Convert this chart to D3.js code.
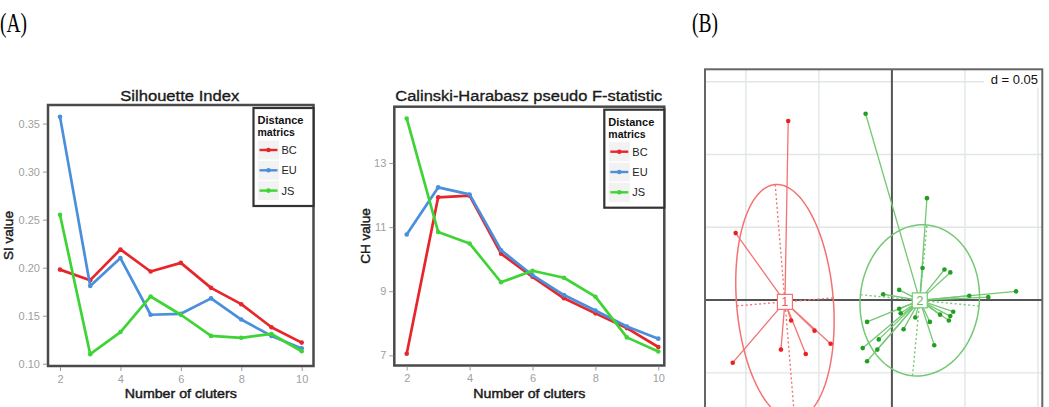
<!DOCTYPE html>
<html>
<head>
<meta charset="utf-8">
<script src="https://cdn.jsdelivr.net/npm/d3@7"></script>
<style>
  body { margin: 0; background: #fff; }
  svg { display: block; }
</style>
</head>
<body>
<script>
// ---------- DATA ----------
var clusters = [2, 3, 4, 5, 6, 7, 8, 9, 10];
var seriesNames = ["BC", "EU", "JS"];

// Silhouette index
var siBC = [0.198, 0.187, 0.219, 0.196, 0.205, 0.179, 0.162, 0.138, 0.122];
var siEU = [0.357, 0.181, 0.210, 0.151, 0.152, 0.168, 0.146, 0.129, 0.116];
var siJS = [0.255, 0.110, 0.133, 0.170, 0.151, 0.129, 0.127, 0.131, 0.113];

// Calinski-Harabasz pseudo F
var chBC = [7.05, 11.93, 11.98, 10.17, 9.45, 8.78, 8.31, 7.85, 7.26];
var chEU = [10.77, 12.24, 12.02, 10.28, 9.50, 8.88, 8.40, 7.90, 7.52];
var chJS = [14.39, 10.85, 10.49, 9.28, 9.64, 9.42, 8.83, 7.56, 7.12];

var xTicks = [2, 4, 6, 8, 10];
var siTicks = [0.10, 0.15, 0.20, 0.25, 0.30, 0.35];
var chTicks = [7, 9, 11, 13];

// ordination (B): sample coordinates per cluster
var group1X = [-0.107, -0.109, -0.076, -0.059, -0.042, -0.053, -0.069, -0.071];
var group1Y = [0.046, -0.043, -0.034, -0.037, -0.030, -0.021, -0.014, 0.123];
var group2X = [-0.018, 0.024, 0.021, 0.036, 0.040, 0.005, -0.006, 0.053, 0.066, 0.085,
               0.005, 0.006, -0.017, 0.016, 0.026, 0.008, 0.033, 0.039, 0.040, 0.042,
               -0.009, -0.020, -0.010, -0.017, 0.029];
var group2Y = [0.128, 0.070, 0.022, 0.021, 0.019, 0.007, 0.004, 0.003, 0.002, 0.006,
               -0.006, -0.009, -0.015, -0.012, -0.015, -0.020, -0.010, -0.014, -0.011, -0.008,
               -0.027, -0.033, -0.034, -0.042, -0.031];
var groupLabels = ["1", "2"];
var gridStep = 0.05;

// ---------- STYLE ----------
var W = 1049, H = 407;
var sans = "'Liberation Sans', Arial, Helvetica, sans-serif";
var lineColors = { BC: "#e6262b", EU: "#4a8fdc", JS: "#3fd435" };

var svg = d3.select("body").append("svg")
  .attr("width", W)
  .attr("height", H);

// panel letters
svg.append("text").text("(A)")
  .attr("x", 0).attr("y", 32)
  .attr("font-family", "'Liberation Serif', 'Times New Roman', serif")
  .attr("font-size", "27px")
  .attr("textLength", 27).attr("lengthAdjust", "spacingAndGlyphs");
svg.append("text").text("(B)")
  .attr("x", 692).attr("y", 32)
  .attr("font-family", "'Liberation Serif', 'Times New Roman', serif")
  .attr("font-size", "27px")
  .attr("textLength", 26).attr("lengthAdjust", "spacingAndGlyphs");

// ---------- LINE PANELS ----------
function drawLinePanel(cfg) {
  var box = cfg.box;
  var g = svg.append("g");

  var x = d3.scaleLinear().domain([2, 10]).range(cfg.xRange);
  var all = cfg.series.flat();
  var ext = d3.extent(all);
  var pad = (ext[1] - ext[0]) * 0.05;
  var y = d3.scaleLinear().domain([ext[0] - pad, ext[1] + pad]).range([box.bottom, box.top]);

  g.append("rect")
    .attr("x", box.left).attr("y", box.top)
    .attr("width", box.right - box.left).attr("height", box.bottom - box.top)
    .attr("fill", "#fff");

  var line = d3.line()
    .x((d, i) => x(clusters[i]))
    .y(d => y(d));

  cfg.series.forEach(function (vals, k) {
    var col = lineColors[seriesNames[k]];
    g.append("path")
      .attr("d", line(vals))
      .attr("fill", "none")
      .attr("stroke", col)
      .attr("stroke-width", 2.7)
      .attr("stroke-linejoin", "round");
    g.selectAll(null).data(vals).enter().append("circle")
      .attr("cx", (d, i) => x(clusters[i]))
      .attr("cy", d => y(d))
      .attr("r", 2.3)
      .attr("fill", col);
  });

  // frame
  g.append("rect")
    .attr("x", box.left).attr("y", box.top)
    .attr("width", box.right - box.left).attr("height", box.bottom - box.top)
    .attr("fill", "none")
    .attr("stroke", "#4a4a4a")
    .attr("stroke-width", 2.5);

  // axes
  var ya = g.append("g")
    .attr("transform", "translate(" + (box.left - 1) + ",0)")
    .call(d3.axisLeft(y).tickValues(cfg.yTicks).tickFormat(cfg.fmt).tickSize(4).tickPadding(3));
  var xa = g.append("g")
    .attr("transform", "translate(0," + (box.bottom + 1) + ")")
    .call(d3.axisBottom(x).tickValues(xTicks).tickSize(4).tickPadding(4));
  [ya, xa].forEach(function (a) {
    a.select(".domain").remove();
    a.selectAll("line").attr("stroke", "#999");
    a.selectAll("text")
      .attr("fill", "#a0a0a0")
      .attr("font-family", sans)
      .attr("font-size", "11px");
  });

  // titles
  g.append("text").text(cfg.title)
    .attr("x", (box.left + box.right) / 2 + cfg.titleShift).attr("y", 101)
    .attr("text-anchor", "middle")
    .attr("font-family", sans).attr("font-size", "15.5px")
    .attr("fill", "#1a1a1a")
    .attr("stroke", "#1a1a1a").attr("stroke-width", 0.35)
    .attr("textLength", cfg.titleLen).attr("lengthAdjust", "spacingAndGlyphs");
  g.append("text").text("Number of cluters")
    .attr("x", (box.left + box.right) / 2).attr("y", box.bottom + 32)
    .attr("text-anchor", "middle")
    .attr("font-family", sans).attr("font-size", "13px")
    .attr("fill", "#1a1a1a")
    .attr("stroke", "#1a1a1a").attr("stroke-width", 0.45)
    .attr("textLength", 112).attr("lengthAdjust", "spacingAndGlyphs");
  g.append("text").text(cfg.yTitle)
    .attr("transform", "translate(" + cfg.yTitleX + "," + ((box.top + box.bottom) / 2) + ") rotate(-90)")
    .attr("text-anchor", "middle")
    .attr("font-family", sans).attr("font-size", "13.5px")
    .attr("fill", "#1a1a1a")
    .attr("stroke", "#1a1a1a").attr("stroke-width", 0.45);

  // legend
  var lw = 60, lh = 98;
  var lg = g.append("g").attr("transform", "translate(" + (box.right - lw) + "," + (box.top + 3) + ")");
  lg.append("rect")
    .attr("width", lw).attr("height", lh)
    .attr("fill", "#fff")
    .attr("stroke", "#333").attr("stroke-width", 2.2);
  lg.append("text").text("Distance")
    .attr("x", 4).attr("y", 16)
    .attr("font-family", sans).attr("font-size", "10.5px").attr("font-weight", "bold")
    .attr("fill", "#111")
    .attr("textLength", 46).attr("lengthAdjust", "spacingAndGlyphs");
  lg.append("text").text("matrics")
    .attr("x", 4).attr("y", 28)
    .attr("font-family", sans).attr("font-size", "10.5px").attr("font-weight", "bold")
    .attr("fill", "#111");
  seriesNames.forEach(function (name, k) {
    var cy = 42 + k * 20.3;
    lg.append("rect")
      .attr("x", 4).attr("y", cy - 10).attr("width", 22).attr("height", 20)
      .attr("fill", "#f2f2f2").attr("stroke", "#fff").attr("stroke-width", 1);
    lg.append("line")
      .attr("x1", 6).attr("x2", 24).attr("y1", cy).attr("y2", cy)
      .attr("stroke", lineColors[name]).attr("stroke-width", 2.4);
    lg.append("circle")
      .attr("cx", 15).attr("cy", cy).attr("r", 2.3)
      .attr("fill", lineColors[name]);
    lg.append("text").text(name)
      .attr("x", 28).attr("y", cy + 4)
      .attr("font-family", sans).attr("font-size", "11px")
      .attr("fill", "#222");
  });
}

drawLinePanel({
  box: { left: 48, top: 105, right: 313.5, bottom: 366 },
  xRange: [60, 301.7],
  series: [siBC, siEU, siJS],
  yTicks: siTicks,
  fmt: d3.format(".2f"),
  title: "Silhouette Index",
  titleLen: 119,
  titleShift: -1,
  yTitle: "SI value",
  yTitleX: 13
});

drawLinePanel({
  box: { left: 394.3, top: 106.7, right: 664.3, bottom: 365.5 },
  xRange: [406.7, 658.3],
  series: [chBC, chEU, chJS],
  yTicks: chTicks,
  fmt: d3.format("d"),
  title: "Calinski-Harabasz pseudo F-statistic",
  titleLen: 267,
  titleShift: -0.5,
  yTitle: "CH value",
  yTitleX: 370
});

// ---------- ORDINATION PANEL (B) ----------
var frame = { left: 705, top: 69.3, right: 1042.3, bottom: 410 };
var xLim = [-0.128, 0.103];
var yLim = [-0.0755, 0.1585];
var bx = d3.scaleLinear().domain(xLim).range([frame.left, frame.right]);
var by = d3.scaleLinear().domain(yLim).range([frame.bottom, frame.top]);

var gb = svg.append("g");
gb.append("clipPath").attr("id", "frameClip")
  .append("rect")
  .attr("x", frame.left).attr("y", frame.top)
  .attr("width", frame.right - frame.left).attr("height", frame.bottom - frame.top);
var inner = gb.append("g").attr("clip-path", "url(#frameClip)");

inner.append("rect")
  .attr("x", frame.left).attr("y", frame.top)
  .attr("width", frame.right - frame.left).attr("height", frame.bottom - frame.top)
  .attr("fill", "#fff");

// grid
var gx = d3.range(Math.ceil(xLim[0] / gridStep), Math.floor(xLim[1] / gridStep) + 1).map(k => k * gridStep);
var gy = d3.range(Math.ceil(yLim[0] / gridStep), Math.floor(yLim[1] / gridStep) + 1).map(k => k * gridStep);
inner.selectAll(null).data(gx).enter().append("line")
  .attr("x1", d => bx(d)).attr("x2", d => bx(d))
  .attr("y1", frame.top).attr("y2", frame.bottom)
  .attr("stroke", "#e1e6e6").attr("stroke-width", 1.4);
inner.selectAll(null).data(gy).enter().append("line")
  .attr("y1", d => by(d)).attr("y2", d => by(d))
  .attr("x1", frame.left).attr("x2", frame.right)
  .attr("stroke", "#e1e6e6").attr("stroke-width", 1.4);

// origin axes
inner.append("line")
  .attr("x1", bx(0)).attr("x2", bx(0)).attr("y1", frame.top).attr("y2", frame.bottom)
  .attr("stroke", "#555").attr("stroke-width", 2);
inner.append("line")
  .attr("y1", by(0)).attr("y2", by(0)).attr("x1", frame.left).attr("x2", frame.right)
  .attr("stroke", "#555").attr("stroke-width", 2);

var groups = [
  { xs: group1X, ys: group1Y, label: groupLabels[0], pt: "#ee1f1f", ln: "#f47272", lab: "#f05a5a" },
  { xs: group2X, ys: group2Y, label: groupLabels[1], pt: "#229f22", ln: "#74c874", lab: "#6ab86a" }
];

groups.forEach(function (grp) {
  var n = grp.xs.length;
  var cx = d3.mean(grp.xs), cy = d3.mean(grp.ys);
  var vx = d3.sum(grp.xs, v => (v - cx) * (v - cx)) / n;
  var vy = d3.sum(grp.ys, v => (v - cy) * (v - cy)) / n;
  var cxy = d3.sum(grp.xs, (v, i) => (v - cx) * (grp.ys[i] - cy)) / n;
  var mid = (vx + vy) / 2, dif = Math.sqrt(((vx - vy) / 2) * ((vx - vy) / 2) + cxy * cxy);
  var A = 1.5 * Math.sqrt(mid + dif), B = 1.5 * Math.sqrt(Math.max(mid - dif, 0));
  var th = 0.5 * Math.atan2(2 * cxy, vx - vy);
  var ct = Math.cos(th), st = Math.sin(th);

  // ellipse
  var pts = d3.range(0, 101).map(function (i) {
    var t = i / 100 * 2 * Math.PI;
    return [cx + A * ct * Math.cos(t) - B * st * Math.sin(t),
            cy + A * st * Math.cos(t) + B * ct * Math.sin(t)];
  });
  inner.append("path")
    .attr("d", d3.line().x(d => bx(d[0])).y(d => by(d[1]))(pts))
    .attr("fill", "none").attr("stroke", grp.ln).attr("stroke-width", 1.5);

  // ellipse axes (dashed)
  [[A * ct, A * st], [-B * st, B * ct]].forEach(function (v) {
    inner.append("line")
      .attr("x1", bx(cx - v[0])).attr("y1", by(cy - v[1]))
      .attr("x2", bx(cx + v[0])).attr("y2", by(cy + v[1]))
      .attr("stroke", grp.ln).attr("stroke-width", 1.4)
      .attr("stroke-dasharray", "2,2.5");
  });

  // spokes
  grp.xs.forEach(function (v, i) {
    inner.append("line")
      .attr("x1", bx(cx)).attr("y1", by(cy))
      .attr("x2", bx(v)).attr("y2", by(grp.ys[i]))
      .attr("stroke", grp.ln).attr("stroke-width", 1.3);
  });
  inner.selectAll(null).data(grp.xs).enter().append("circle")
    .attr("cx", d => bx(d))
    .attr("cy", (d, i) => by(grp.ys[i]))
    .attr("r", 2.3)
    .attr("fill", grp.pt);

  grp.center = [cx, cy];
});

// centroid labels on top
groups.forEach(function (grp) {
  var px = bx(grp.center[0]), py = by(grp.center[1]);
  inner.append("rect")
    .attr("x", px - 7.5).attr("y", py - 7.5)
    .attr("width", 15).attr("height", 15)
    .attr("fill", "#fff").attr("stroke", grp.ln).attr("stroke-width", 1.2);
  inner.append("text").text(grp.label)
    .attr("x", px).attr("y", py + 4.5)
    .attr("text-anchor", "middle")
    .attr("font-family", sans).attr("font-size", "13px")
    .attr("fill", grp.lab);
});

// scale label
inner.append("rect")
  .attr("x", 984).attr("y", frame.top)
  .attr("width", frame.right - 984).attr("height", 19)
  .attr("fill", "#fff");
inner.append("text").text("d = " + gridStep)
  .attr("x", 1038).attr("y", 84)
  .attr("text-anchor", "end")
  .attr("font-family", sans).attr("font-size", "13px")
  .attr("fill", "#111");

// frame border
gb.append("rect")
  .attr("x", frame.left).attr("y", frame.top)
  .attr("width", frame.right - frame.left).attr("height", frame.bottom - frame.top)
  .attr("fill", "none").attr("stroke", "#666").attr("stroke-width", 2);
</script>
</body>
</html>
